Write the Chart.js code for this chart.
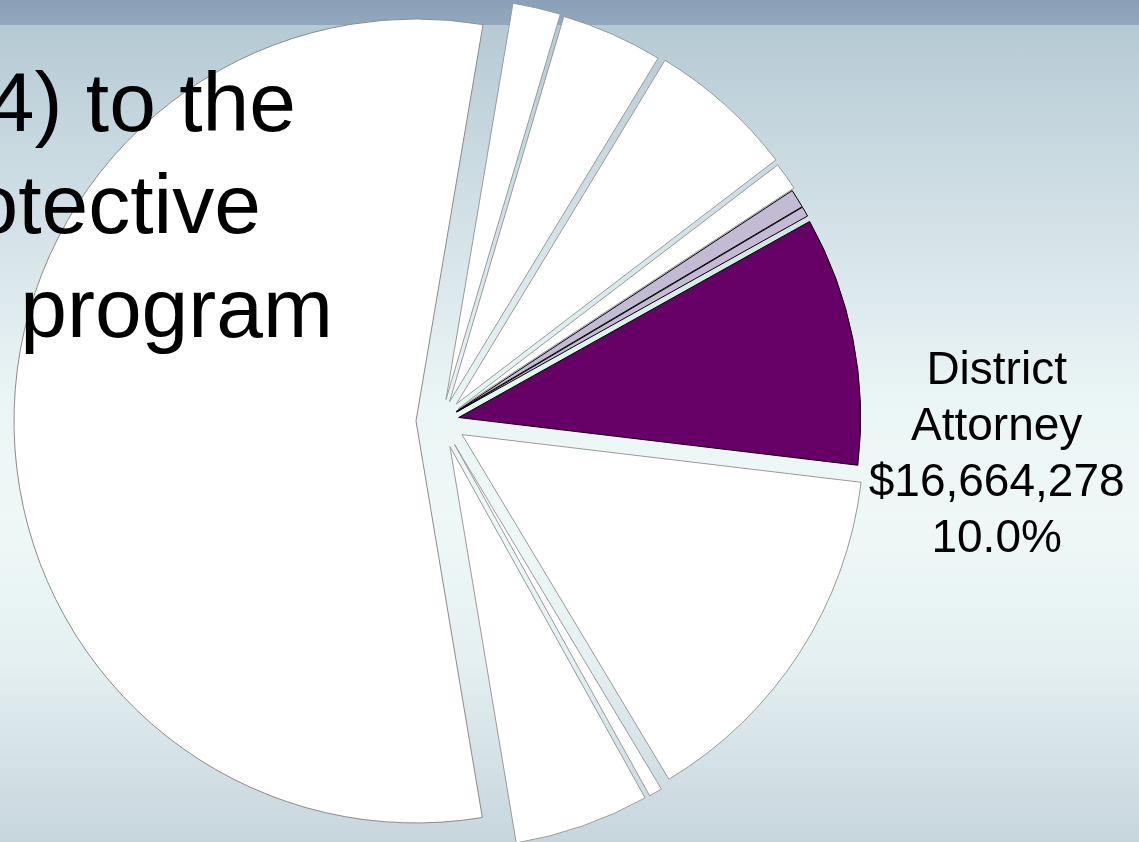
<!DOCTYPE html>
<html>
<head>
<meta charset="utf-8">
<script src="https://cdn.jsdelivr.net/npm/chart.js@4.4.1/dist/chart.umd.min.js"></script>
<style>
  html, body { margin: 0; padding: 0; }
  body {
    width: 1139px; height: 842px; overflow: hidden; position: relative;
    background: linear-gradient(to bottom, #b6cad4 0px, #b6cad4 25px, #d3e1e7 220px, #eaf5f5 400px, #eef8f7 520px, #e4f0f1 660px, #c7d5dd 842px);
    font-family: "Liberation Sans", Arial, sans-serif;
  }
  .topbar { position: absolute; left: 0; top: 0; width: 1139px; height: 25px; background: linear-gradient(#8b9fb8, #93a7bd); }
  .title { position: absolute; z-index: 2; font-size: 84px; line-height: 1; color: #000; white-space: nowrap; }
  #wrap { position: absolute; z-index: 1; left: 0; top: 0; width: 1139px; height: 842px; }
</style>
</head>
<body>
<div class="topbar"></div>
<div id="wrap"><canvas id="pie"></canvas></div>
<div class="title" style="top:60px; right:843px;">4) to the</div>
<div class="title" style="top:162px; right:878px;">otective</div>
<div class="title" style="top:266px; right:806px;">program</div>

<script>
// budget by department, clockwise from the top
const departments = ['Dept A', 'Dept B', 'Dept C', 'Dept D', 'Dept E', 'Dept F',
  'District Attorney', 'Dept G', 'Dept H', 'Dept J', 'Dept K'];
const amounts = [3208000, 6816000, 9898000, 1866000, 1250000, 667000,
  16664278, 24163000, 893000, 9049000, 92153000];
const sliceColors = ['#ffffff', '#ffffff', '#ffffff', '#ffffff', '#c3bad3', '#c3bad3',
  '#660066', '#ffffff', '#ffffff', '#ffffff', '#ffffff'];
const edgeColors = ['#999999', '#999999', '#999999', '#999999', '#000000', '#000000',
  '#000000', '#999999', '#999999', '#999999', '#8a8a8a'];
// how far each slice is pulled out from the centre (px)
const pullOut = [22, 21, 23, 21, 18, 18, 18, 25, 27, 27, 25];
const labelIndex = 6;

const total = amounts.reduce((a, b) => a + b, 0);

// arc that is simply shifted along its middle angle, radius unchanged
class ExplodedArc extends Chart.ArcElement {
  draw(ctx) {
    const { x, y, startAngle, endAngle, outerRadius, options } = this;
    const d = options.offset || 0;
    const mid = (startAngle + endAngle) / 2;
    const cx = x + Math.cos(mid) * d;
    const cy = y + Math.sin(mid) * d;
    ctx.save();
    ctx.beginPath();
    ctx.moveTo(cx, cy);
    ctx.arc(cx, cy, outerRadius, startAngle, endAngle);
    ctx.closePath();
    ctx.fillStyle = options.backgroundColor;
    ctx.fill();
    ctx.lineWidth = options.borderWidth;
    ctx.strokeStyle = options.borderColor;
    ctx.lineJoin = 'miter';
    ctx.stroke();
    ctx.restore();
  }
}
ExplodedArc.id = 'explodedArc';

class ExplodedPie extends Chart.PieController {}
ExplodedPie.id = 'explodedPie';
ExplodedPie.defaults = { dataElementType: 'explodedArc' };

Chart.register(ExplodedArc, ExplodedPie);

// value label outside the District Attorney slice
const sliceLabel = {
  id: 'sliceLabel',
  afterDatasetsDraw(chart) {
    const arc = chart.getDatasetMeta(0).data[labelIndex];
    const mid = (arc.startAngle + arc.endAngle) / 2;
    const d = pullOut[labelIndex];
    const cx = arc.x + Math.cos(mid) * d;
    const cy = arc.y + Math.sin(mid) * d;
    const value = amounts[labelIndex];
    const lines = departments[labelIndex].split(' ');
    lines.push('$' + value.toLocaleString('en-US'));
    lines.push((value / total * 100).toFixed(1) + '%');

    const ctx = chart.ctx;
    ctx.save();
    ctx.font = '46px "Liberation Sans", Arial, sans-serif';
    ctx.fillStyle = '#000';
    ctx.textAlign = 'center';
    ctx.textBaseline = 'alphabetic';
    const lx = cx + arc.outerRadius + 136;
    lines.forEach((t, i) => ctx.fillText(t, lx, cy - 34 + i * 56));
    ctx.restore();
  }
};

new Chart(document.getElementById('pie'), {
  type: 'explodedPie',
  data: {
    labels: departments,
    datasets: [{
      data: amounts,
      backgroundColor: sliceColors,
      borderColor: edgeColors,
      borderWidth: 1,
      offset: pullOut
    }]
  },
  options: {
    responsive: true,
    maintainAspectRatio: false,
    animation: false,
    rotation: 9.6,
    radius: 402,
    layout: { padding: { left: 0, top: 0, right: 257, bottom: 0 } },
    plugins: {
      legend: { display: false },
      tooltip: { enabled: false }
    }
  },
  plugins: [sliceLabel]
});
</script>
</body>
</html>
